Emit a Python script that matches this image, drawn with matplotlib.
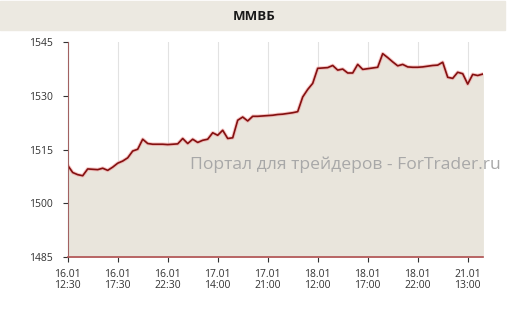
import matplotlib.pyplot as plt
from matplotlib.patches import Rectangle

# MICEX index, half-hour points
values = [1510.6, 1508.6, 1508.0, 1507.7, 1509.6, 1509.5, 1509.4, 1509.8, 1509.2, 1510.1,
          1511.2, 1511.8, 1512.7, 1514.6, 1515.1, 1517.9, 1516.7, 1516.5, 1516.5, 1516.5,
          1516.4, 1516.5, 1516.6, 1518.1, 1516.7, 1517.9, 1517.0, 1517.6, 1517.9, 1519.7,
          1519.0, 1520.4, 1518.1, 1518.3, 1523.2, 1524.1, 1523.0, 1524.3, 1524.3, 1524.4,
          1524.5, 1524.6, 1524.8, 1524.9, 1525.1, 1525.3, 1525.6, 1529.7, 1531.8, 1533.5,
          1537.7, 1537.8, 1537.9, 1538.5, 1537.2, 1537.5, 1536.4, 1536.4, 1538.8, 1537.4,
          1537.6, 1537.8, 1538.0, 1541.8, 1540.7, 1539.5, 1538.4, 1538.8, 1538.1, 1538.0,
          1538.0, 1538.1, 1538.3, 1538.5, 1538.6, 1539.4, 1535.2, 1534.9, 1536.6, 1536.2,
          1533.3, 1536.0, 1535.7, 1536.1]
tick_pos = [0, 10, 20, 30, 40, 50, 60, 70, 80]
tick_labels = ["16.01\n12:30", "16.01\n17:30", "16.01\n22:30", "17.01\n14:00", "17.01\n21:00",
               "18.01\n12:00", "18.01\n17:00", "18.01\n22:00", "21.01\n13:00"]
yticks = [1485, 1500, 1515, 1530, 1545]

plt.rcParams['font.family'] = ['Open Sans', 'DejaVu Sans']

fig = plt.figure(figsize=(5.07, 3.09), dpi=100)
fig.patches.append(Rectangle((0, 1 - 30 / 309), 505 / 507, 29 / 309, transform=fig.transFigure,
                             color='#ECE9E1', zorder=0))
fig.text(254 / 507, 1 - 16 / 309, "ММВБ", ha='center', va='center', fontsize=9.5,
         fontweight='bold', color='#1A1A1A')

ax = fig.add_axes([67.7 / 507, 1 - 257 / 309, 415 / 507, (257 - 42.2) / 309])
x = list(range(len(values)))
ax.fill_between(x, 1485, values, color='#E9E5DC', zorder=1)
ax.plot(x, values, color='#F0A0A0', lw=2.6, alpha=0.6, zorder=2, solid_joinstyle='round')
ax.plot(x, values, color='#841010', lw=1.2, zorder=3, solid_joinstyle='round')
ax.axvline(0, color='#B06060', lw=1.2, zorder=3)

ax.set_xlim(0, len(values) - 1)
ax.set_ylim(1485, 1545)
ax.set_yticks(yticks)
ax.set_xticks(tick_pos)
ax.set_xticklabels(tick_labels, linespacing=1.05)
ax.tick_params(axis='both', labelsize=7.5, colors='#333333', length=3.5, width=0.8)
ax.tick_params(axis='x', pad=5)
ax.tick_params(axis='y', pad=7)
ax.grid(axis='x', color='#E2E2E2', lw=0.8, zorder=0)
ax.set_axisbelow(True)

for s in ['top', 'right']:
    ax.spines[s].set_visible(False)
ax.spines['left'].set_color('#666666')
ax.spines['bottom'].set_color('#B05050')
ax.spines['bottom'].set_linewidth(1.2)

fig.text(190 / 507, 1 - 165 / 309, "Портал для трейдеров - ForTrader.ru", ha='left',
         va='center', fontsize=12.6, color='#A8A8A8', zorder=5)

fig.savefig('out.png', dpi=100, facecolor='white')
